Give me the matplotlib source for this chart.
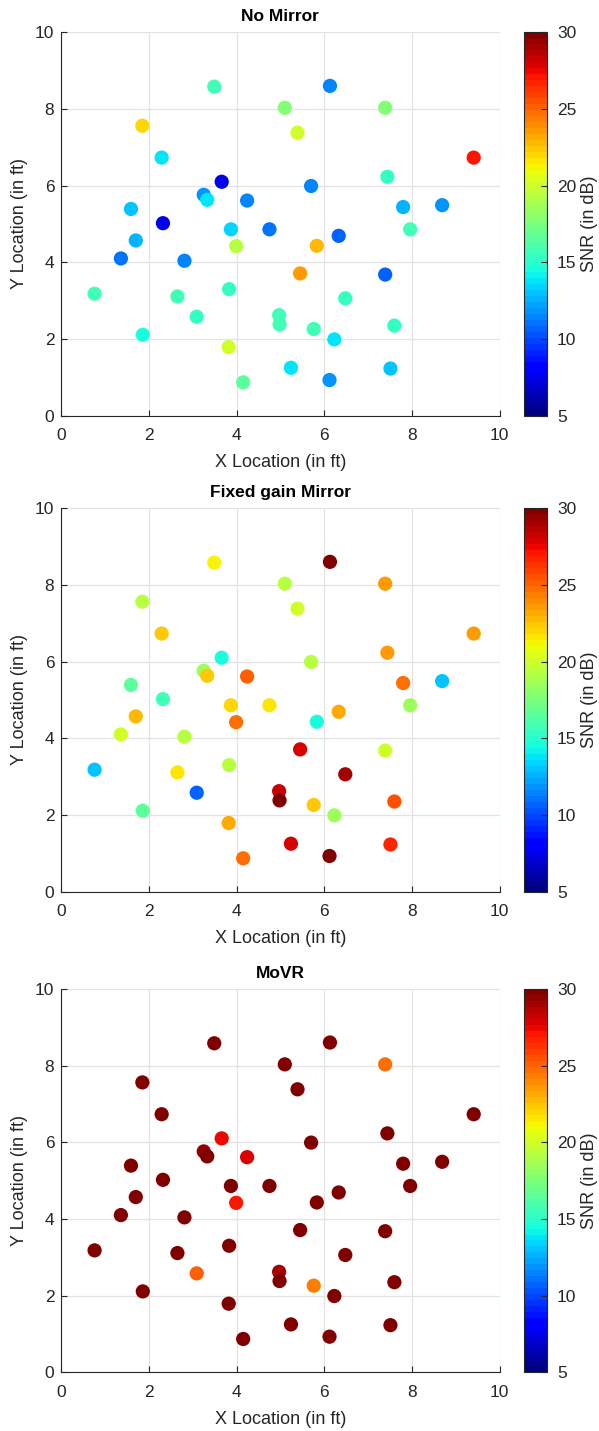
import matplotlib
matplotlib.use("Agg")
import matplotlib.pyplot as plt
import numpy as np

plt.rcParams['font.family'] = ['Liberation Sans', 'DejaVu Sans']

# user locations (ft)
x_loc = [3.49, 6.13, 5.10, 7.39, 1.85, 5.39, 9.41, 2.29, 3.66, 7.44,
         5.70, 3.25, 3.33, 4.24, 1.59, 7.80, 8.69, 2.32, 1.70, 3.87,
         4.75, 6.33, 7.96, 3.99, 5.83, 1.36, 2.81, 5.45, 7.39, 0.76,
         2.65, 6.48, 3.83, 3.09, 4.97, 4.98, 5.76, 7.60, 1.86, 6.23,
         3.82, 5.24, 7.51, 4.15, 6.12]
y_loc = [8.58, 8.60, 8.03, 8.03, 7.56, 7.38, 6.73, 6.73, 6.10, 6.23,
         5.99, 5.76, 5.63, 5.61, 5.39, 5.44, 5.49, 5.02, 4.57, 4.86,
         4.86, 4.69, 4.86, 4.42, 4.43, 4.10, 4.04, 3.71, 3.68, 3.18,
         3.11, 3.06, 3.30, 2.58, 2.62, 2.38, 2.26, 2.35, 2.11, 1.99,
         1.79, 1.25, 1.23, 0.87, 0.93]

# SNR (dB) per scheme
snr_no_mirror = [15.6, 11.4, 17.5, 17.5, 21.9, 19.9, 26.9, 13.6, 7.6, 15.2,
                 11.6, 11.9, 13.9, 11.4, 13.1, 12.7, 12.0, 7.5, 12.7, 13.5,
                 11.2, 10.6, 15.9, 19.1, 22.7, 11.0, 11.6, 23.7, 10.6, 15.9,
                 15.7, 15.2, 15.2, 15.2, 15.9, 15.7, 15.9, 15.4, 14.5, 13.6,
                 20.1, 13.6, 13.1, 16.7, 11.9]
snr_fixed = [21.4, 30.0, 19.1, 23.4, 19.4, 20.0, 23.4, 22.5, 14.6, 23.5,
             19.3, 18.3, 22.2, 25.2, 16.5, 24.9, 13.1, 15.9, 22.8, 21.9,
             21.6, 23.0, 18.3, 24.9, 14.4, 19.9, 19.1, 27.7, 20.2, 13.1,
             21.6, 29.0, 19.1, 10.6, 28.2, 29.8, 22.3, 25.6, 16.7, 18.3,
             23.0, 27.7, 26.5, 24.7, 30.0]
snr_movr = [30.0, 30.0, 30.0, 24.7, 30.0, 30.0, 30.0, 30.0, 27.3, 30.0,
            30.0, 29.5, 30.0, 27.7, 30.0, 30.0, 30.0, 30.0, 30.0, 30.0,
            30.0, 30.0, 30.0, 26.9, 30.0, 30.0, 30.0, 30.0, 30.0, 30.0,
            30.0, 30.0, 30.0, 25.0, 29.0, 30.0, 24.5, 30.0, 30.0, 30.0,
            30.0, 30.0, 30.0, 30.0, 30.0]

titles = ['No Mirror', 'Fixed gain Mirror', 'MoVR']
snr_sets = [snr_no_mirror, snr_fixed, snr_movr]

fig = plt.figure(figsize=(5.99, 14.31), dpi=100)
cmap = plt.get_cmap('jet', 64)

ax_bottoms = [0.7095, 0.3769, 0.0410]
ax_h = 0.268

for title, snr, bot in zip(titles, snr_sets, ax_bottoms):
    ax = fig.add_axes([0.1023, bot, 0.7317, ax_h])
    sc = ax.scatter(x_loc, y_loc, c=snr, cmap=cmap, vmin=5, vmax=30,
                    s=105, edgecolors='none', zorder=3)
    ax.set_xlim(0, 10)
    ax.set_ylim(0, 10)
    ax.set_xticks(np.arange(0, 11, 2))
    ax.set_yticks(np.arange(0, 11, 2))
    ax.grid(True, color='#e3e3e3', linewidth=0.9, zorder=0)
    ax.set_axisbelow(True)
    for side in ['top', 'right']:
        ax.spines[side].set_visible(False)
    for side in ['left', 'bottom']:
        ax.spines[side].set_color('#262626')
        ax.spines[side].set_linewidth(0.8)
    ax.tick_params(direction='in', length=4, width=0.8, labelsize=12.5,
                   colors='#262626')
    ax.tick_params(axis='x', pad=9)
    ax.tick_params(axis='y', pad=5)
    ax.set_xlabel('X Location (in ft)', fontsize=13, color='#262626', labelpad=8)
    ax.set_ylabel('Y Location (in ft)', fontsize=13, color='#262626', labelpad=5)
    ax.set_title(title, fontsize=12.5, fontweight='bold', pad=8)

    cax = fig.add_axes([0.8748, bot, 0.039, ax_h])
    cb = fig.colorbar(sc, cax=cax)
    cb.set_ticks([5, 10, 15, 20, 25, 30])
    cb.outline.set_linewidth(0.8)
    cb.outline.set_edgecolor('#262626')
    cax.tick_params(direction='in', length=4, width=0.8, labelsize=12.5,
                    colors='#262626', pad=7)
    cb.set_label('SNR (in dB)', fontsize=13, color='#262626', labelpad=3)

fig.savefig('out.png', dpi=100)
